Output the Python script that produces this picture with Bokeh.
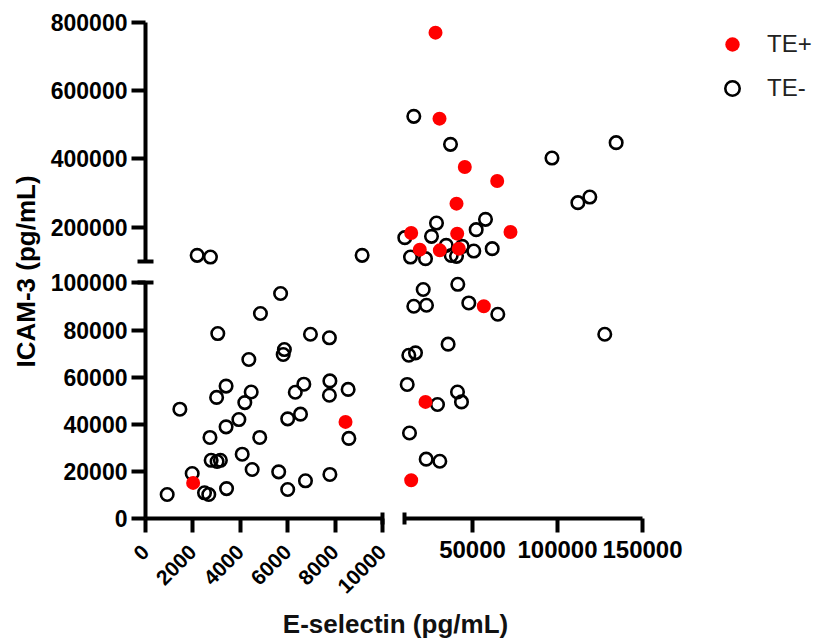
import numpy as np
from math import pi
from bokeh.plotting import figure
from bokeh.models import (ColumnDataSource, LinearAxis, FixedTicker, Range1d, Label,
                          Legend, LegendItem, BasicTickFormatter)
from bokeh.layouts import row, column
from bokeh.embed import file_html
from bokeh.resources import INLINE

# ---------------- data ----------------
te_pos_x = [28240, 30590, 45470, 64530, 40590, 72350, 13940, 41000, 19000, 30770,
            41940, 56650, 22350, 13940, 2010, 8440]
te_pos_y = [769400, 517700, 376000, 335000, 268900, 185800, 182800, 181100, 134200, 132200,
            137200, 90100, 49500, 16250, 15100, 41000]

te_neg_x = [915, 1450, 1970, 2490, 2670, 2720, 2770, 3020, 3160, 3000,
            3050, 3400, 3400, 3420, 3940, 4080, 4190, 4360, 4460, 4500,
            4820, 4850, 5620, 5700, 5810, 5860, 6000, 6000, 6320, 6540,
            6680, 6750, 6960, 7760, 7780, 7760, 7780, 8550, 8580,
            2180, 2740, 9140,
            21000, 41350, 15470, 22940, 47820, 64880, 127800, 35650, 12530, 16470,
            11590, 29410, 41170, 43520, 12940, 22760, 30770,
            15470, 37060, 96750, 134500, 112000, 119000, 28820, 57650, 52170, 25880,
            10180, 34530, 37470, 43940, 50760, 61590, 13530, 22350, 40590]
te_neg_y = [10200, 46400, 19100, 10900, 10200, 34400, 24700, 24200, 24700, 51400,
            78500, 56200, 38900, 12700, 42000, 27300, 49200, 67500, 53700, 20800,
            34400, 87000, 19800, 95500, 69600, 71700, 12300, 42300, 53600, 44300,
            57000, 16000, 78200, 76700, 58400, 52300, 18700, 54800, 34000,
            117600, 112600, 117600,
            97200, 99400, 90100, 90500, 91500, 86700, 78200, 74000, 69300, 70300,
            56900, 48400, 53700, 49500, 36300, 25200, 24300,
            524400, 442500, 402400, 447400, 271800, 288200, 212100, 222900, 192800, 173200,
            169400, 146800, 117300, 143900, 130100, 137200, 112600, 107900, 114600]

x_break = 10000
x_max = 150000
y_break = 100000
y_max = 800000
x_left_ticks = [0, 2000, 4000, 6000, 8000, 10000]
x_right_ticks = [50000, 100000, 150000]
y_bottom_ticks = [0, 20000, 40000, 60000, 80000, 100000]
y_top_ticks = [200000, 400000, 600000, 800000]
series_labels = ["TE+", "TE-"]

x_title = "E-selectin (pg/mL)"
y_title = "ICAM-3 (pg/mL)"

# ---------------- geometry ----------------
FONT = "Liberation Sans"
LW_FRAME = 237            # left x segment 0..10000
RW_FRAME = 250
TOP_FRAME = 249
BOT_FRAME = 246

r_ppu = 85.0 / 50000      # px per unit, right x segment
r_start = x_break - 8 / r_ppu
r_end = r_start + RW_FRAME / r_ppu
b_ppu = 235.6 / 100000
b_end = BOT_FRAME / b_ppu
t_ppu = 68.33 / 200000
t_end = y_max + 3.7 / t_ppu
t_start = t_end - TOP_FRAME / t_ppu

xr_left = Range1d(0, x_break)
xr_right = Range1d(r_start, r_end)
yr_top = Range1d(t_start, t_end)
yr_bot = Range1d(0, b_end)


def make_fig(xr, yr, fw, fh, bl, br, bt, bb):
    p = figure(x_range=xr, y_range=yr, frame_width=fw, frame_height=fh,
               x_axis_type=None, y_axis_type=None, toolbar_location=None, tools="",
               output_backend="svg", min_border_left=bl, min_border_right=br,
               min_border_top=bt, min_border_bottom=bb)
    p.outline_line_color = None
    p.background_fill_color = "white"
    p.border_fill_color = "white"
    return p


def style_axis(ax, ticks, minor, bounds, size, minor_len=7, standoff=4):
    ax.ticker = FixedTicker(ticks=ticks, minor_ticks=minor)
    ax.formatter = BasicTickFormatter(use_scientific=False)
    ax.bounds = bounds
    ax.axis_line_width = 4
    ax.axis_line_color = "black"
    ax.major_tick_line_width = 4
    ax.major_tick_line_color = "black"
    ax.major_tick_in = 0
    ax.major_tick_out = 14
    ax.minor_tick_line_width = 4
    ax.minor_tick_line_color = "black"
    ax.minor_tick_in = minor_len
    ax.minor_tick_out = minor_len
    ax.major_label_text_font = FONT
    ax.major_label_text_font_style = "bold"
    ax.major_label_text_font_size = f"{size}px"
    ax.major_label_text_color = "black"
    ax.major_label_standoff = standoff


RB_RIGHT = 172
tl = make_fig(xr_left, yr_top, LW_FRAME, TOP_FRAME, 103, 10, 18, 2)
tr = make_fig(xr_right, yr_top, RW_FRAME, TOP_FRAME, 4, RB_RIGHT, 18, 2)
bl = make_fig(xr_left, yr_bot, LW_FRAME, BOT_FRAME, 103, 10, 3, 82)
br = make_fig(xr_right, yr_bot, RW_FRAME, BOT_FRAME, 4, RB_RIGHT, 3, 82)

ax = LinearAxis()
style_axis(ax, y_top_ticks, [y_break], (y_break, y_max), 23, 8)
tl.add_layout(ax, "left")

ax = LinearAxis()
style_axis(ax, y_bottom_ticks, [y_break], (0, y_break), 23, 8)
bl.add_layout(ax, "left")

ax = LinearAxis()
style_axis(ax, x_left_ticks, [x_break], (0, x_break), 21, 6, standoff=16)
ax.major_label_orientation = pi / 4
bl.add_layout(ax, "below")

ax = LinearAxis()
style_axis(ax, x_right_ticks, [x_break], (x_break, x_max), 24, 6, standoff=8)
br.add_layout(ax, "below")

# ---------------- points ----------------
pos_x = np.asarray(te_pos_x, float); pos_y = np.asarray(te_pos_y, float)
neg_x = np.asarray(te_neg_x, float); neg_y = np.asarray(te_neg_y, float)

panels = {(True, True): tl, (False, True): tr, (True, False): bl, (False, False): br}
renderers = {}
for (is_left, is_top), p in panels.items():
    m_neg = ((neg_x < x_break) == is_left) & ((neg_y >= y_break) == is_top)
    m_pos = ((pos_x < x_break) == is_left) & ((pos_y >= y_break) == is_top)
    r_neg = p.scatter(x="x", y="y", source=ColumnDataSource(dict(x=neg_x[m_neg], y=neg_y[m_neg])),
                      marker="circle", size=12.5, fill_color=None, line_color="black", line_width=2.6)
    r_pos = p.scatter(x="x", y="y", source=ColumnDataSource(dict(x=pos_x[m_pos], y=pos_y[m_pos])),
                      marker="circle", size=14, fill_color="#ff0000", line_color=None)
    renderers[(is_left, is_top)] = (r_pos, r_neg)

r_pos, r_neg = renderers[(False, True)]
legend = Legend(items=[LegendItem(label=series_labels[0], renderers=[r_pos]),
                       LegendItem(label=series_labels[1], renderers=[r_neg])],
                location=(68, 161), glyph_width=36, glyph_height=36, spacing=8,
                padding=0, margin=0, label_standoff=17,
                label_text_font=FONT, label_text_font_size="24px", label_text_color="#222222",
                border_line_color=None, background_fill_alpha=0)
tr.add_layout(legend, "right")

# ---------------- axis titles ----------------
ylab = figure(width=42, height=600, x_range=(0, 1), y_range=(0, 1), x_axis_type=None,
              y_axis_type=None, toolbar_location=None, tools="", output_backend="svg",
              min_border=0)
ylab.outline_line_color = None
ylab.add_layout(Label(x=25, y=329, x_units="screen", y_units="screen", text=y_title,
                      angle=pi / 2, text_align="center", text_baseline="middle",
                      text_font=FONT, text_font_style="bold", text_font_size="26px",
                      text_color="black"))

xlab = figure(width=818, height=42, x_range=(0, 1), y_range=(0, 1), x_axis_type=None,
              y_axis_type=None, toolbar_location=None, tools="", output_backend="svg",
              min_border=0)
xlab.outline_line_color = None
xlab.add_layout(Label(x=395, y=21, x_units="screen", y_units="screen", text=x_title,
                      text_align="center", text_baseline="middle",
                      text_font=FONT, text_font_style="bold", text_font_size="26px",
                      text_color="#111111"))

layout = column(row(ylab, column(row(tl, tr), row(bl, br))), xlab)

open("out.html", "w").write(file_html(layout, INLINE))
